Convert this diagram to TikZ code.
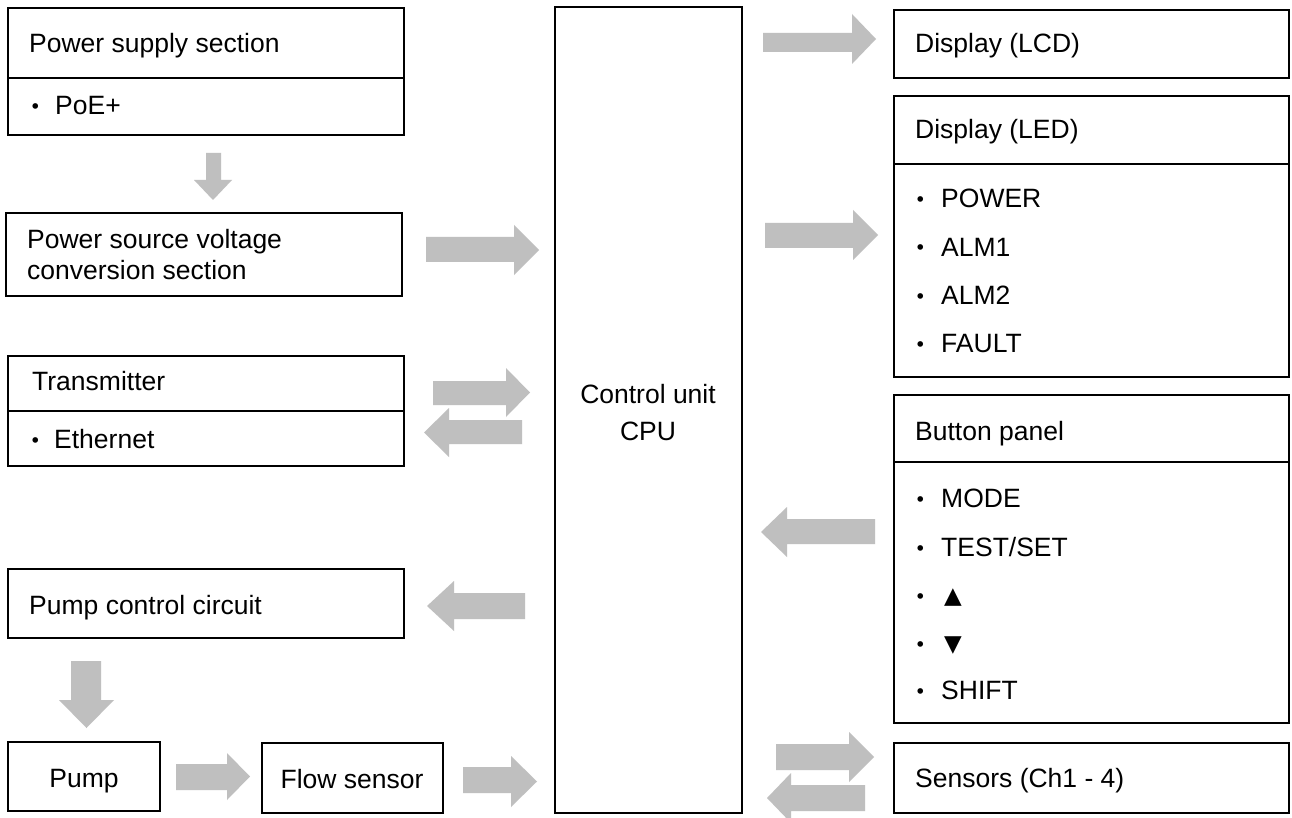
\documentclass[tikz,border=0pt]{standalone}
\usepackage{fontspec}
\setmainfont{Liberation Sans}
\newfontfamily\cjkfont{Noto Sans CJK JP}
\newfontfamily\symfont{DejaVu Sans}
\definecolor{arrowgray}{RGB}{191,191,191}
\newcommand{\harr}[7]{\fill[blk] (#1,#4) -- (#2,#4) -- (#2,#6) -- (#3,{(#6+#7)/2}) -- (#2,#7) -- (#2,#5) -- (#1,#5) -- cycle;}
\newcommand{\varr}[7]{\fill[blk] (#4,#1) -- (#4,#2) -- (#6,#2) -- ({(#6+#7)/2},#3) -- (#7,#2) -- (#5,#2) -- (#5,#1) -- cycle;}
\begin{document}
\begin{tikzpicture}[x=1pt,y=-1pt,
  box/.style={draw=black, line width=1.5pt, anchor=north west, inner sep=0pt, outer sep=0pt},
  lbl/.style={anchor=base west, inner sep=0pt, font=\fontsize{26.5}{31}\selectfont},
  clbl/.style={anchor=base, inner sep=0pt, font=\fontsize{26.5}{31}\selectfont},
  bul/.style={anchor=base west, inner sep=0pt, font=\cjkfont\fontsize{26.5}{31}\selectfont},
  sym/.style={anchor=base west, inner sep=0pt, font=\symfont\fontsize{23}{28}\selectfont},
  blk/.style={fill=arrowgray, draw=none}]
\useasboundingbox (0,0) rectangle (1292,818);
\clip (0,0) rectangle (1292,818);
\fill[white] (0,0) rectangle (1292,818);

% ---- boxes ----
\node[box, minimum width=396pt, minimum height=70pt] (ps) at (8,8) {};
\node[box, minimum width=396pt, minimum height=57pt] (psi) at (8,78) {};
\node[box, minimum width=396pt, minimum height=83pt] (psv) at (6,213) {};
\node[box, minimum width=396pt, minimum height=55pt] (tr) at (8,356) {};
\node[box, minimum width=396pt, minimum height=55pt] (tri) at (8,411) {};
\node[box, minimum width=396pt, minimum height=69pt] (pcc) at (8,569) {};
\node[box, minimum width=152pt, minimum height=69pt] (pump) at (8,742) {};
\node[box, minimum width=181pt, minimum height=70pt] (flow) at (262,743) {};
\node[box, minimum width=187pt, minimum height=806pt] (cpu) at (555,7) {};
\node[box, minimum width=395pt, minimum height=68pt] (lcd) at (894,10) {};
\node[box, minimum width=395pt, minimum height=68pt] (led) at (894,96) {};
\node[box, minimum width=395pt, minimum height=213pt] (ledi) at (894,164) {};
\node[box, minimum width=395pt, minimum height=67pt] (btn) at (894,395) {};
\node[box, minimum width=395pt, minimum height=261pt] (btni) at (894,462) {};
\node[box, minimum width=395pt, minimum height=70pt] (sens) at (894,743) {};

% ---- texts ----
\node[lbl] (tps) at (29,53) {Power supply section};
\node[bul] (bps) at (22.5,117) {・};
\node[lbl] (tpoe) at (55,115) {PoE+};
\node[lbl] (tpsv1) at (27,248) {Power source voltage};
\node[lbl] (tpsv2) at (27,279) {conversion section};
\node[lbl] (ttr) at (32,390) {Transmitter};
\node[bul] (btr) at (22.5,450) {・};
\node[lbl] (teth) at (54,448) {Ethernet};
\node[lbl] (tpcc) at (29,614) {Pump control circuit};
\node[clbl] (tpump) at (84,787) {Pump};
\node[clbl] (tflow) at (352,788) {Flow sensor};
\node[clbl] (tcpu1) at (648,403) {Control unit};
\node[clbl] (tcpu2) at (648,440) {CPU};
\node[lbl] (tlcd) at (915,53) {Display (LCD)};
\node[lbl] (tled) at (915,139) {Display (LED)};
\node[bul] (b1) at (907.5,210) {・};
\node[lbl] (t1) at (941,208) {POWER};
\node[bul] (b2) at (907.5,258) {・};
\node[lbl] (t2) at (941,256) {ALM1};
\node[bul] (b3) at (907.5,306) {・};
\node[lbl] (t3) at (941,304) {ALM2};
\node[bul] (b4) at (907.5,354) {・};
\node[lbl] (t4) at (941,352) {FAULT};
\node[lbl] (tbtn) at (915,440) {Button panel};
\node[bul] (b5) at (907.5,509) {・};
\node[lbl] (t5) at (941,507) {MODE};
\node[bul] (b6) at (907.5,558) {・};
\node[lbl] (t6) at (941,556) {TEST/SET};
\node[bul] (b7) at (907.5,606) {・};
\node[sym] (t7) at (944,603) {▲};
\node[bul] (b8) at (907.5,654) {・};
\node[sym] (t8) at (944,651) {▼};
\node[bul] (b9) at (907.5,701) {・};
\node[lbl] (t9) at (941,699) {SHIFT};
\node[lbl] (tsens) at (915,787) {Sensors (Ch1 - 4)};

% ---- block arrows ----
\varr{153}{180}{200}{206}{221}{194}{232}
\harr{426}{514}{539}{237}{262}{225}{275}
\harr{433}{506}{530}{381}{405}{368}{417}
\harr{522}{449}{424}{420}{444}{408}{457}
\harr{525}{454}{427}{593}{619}{581}{631}
\varr{661}{700}{728}{71}{101}{59}{114}
\harr{176}{227}{250}{764}{790}{753}{800}
\harr{463}{511}{537}{767}{793}{756}{807}
\harr{763}{852}{876}{33}{52}{14}{64}
\harr{765}{853}{878}{223}{248}{210}{260}
\harr{875}{787}{761}{519}{544}{507}{557}
\harr{776}{849}{874}{744}{770}{732}{782}
\harr{865}{791}{767}{785}{811}{773}{823}
\end{tikzpicture}
\end{document}
